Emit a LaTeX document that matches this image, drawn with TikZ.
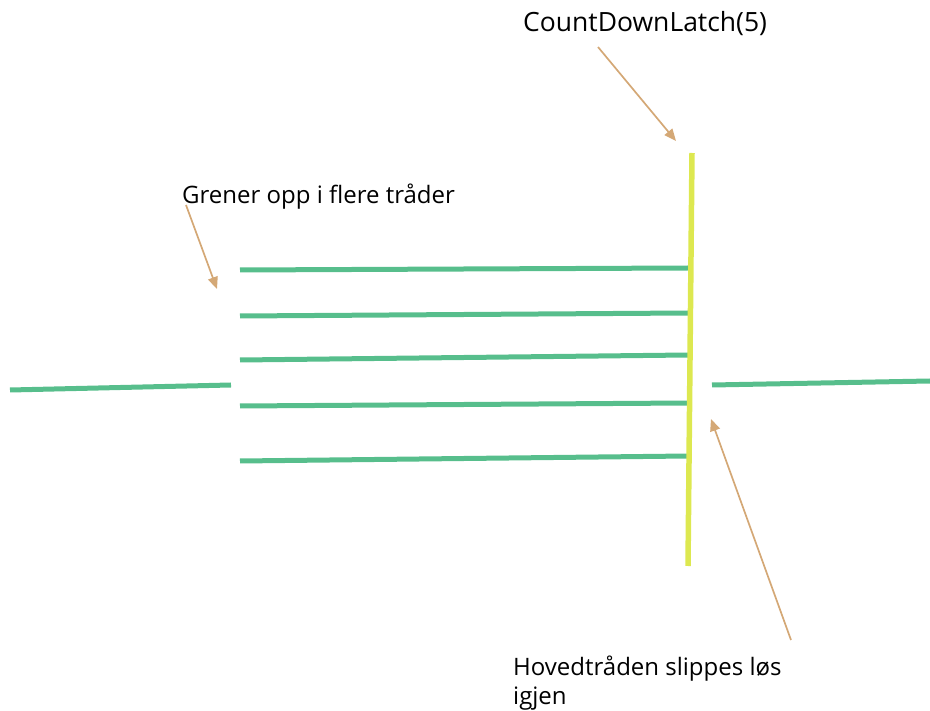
\documentclass[tikz,border=0pt]{standalone}
\usepackage{fontspec}
\setmainfont{Open Sans}
\usetikzlibrary{arrows.meta}
\definecolor{traad}{RGB}{87,190,140}
\definecolor{latch}{RGB}{221,232,80}
\definecolor{pil}{RGB}{212,168,118}
\tikzset{
  thread/.style={line width=5pt, traad},
  barrier/.style={line width=5.5pt, latch},
  note/.style={pil, line width=1.7pt, -{Triangle[length=12pt,width=10pt]}},
  label/.style={font=\fontsize{24}{29}\selectfont, inner sep=0pt, anchor=west}
}
\begin{document}
\begin{tikzpicture}[x=1pt,y=-1pt]
\useasboundingbox (0,0) rectangle (930,711);
% Main thread
\draw[thread] (10,390) coordinate (m1) -- (231,385) coordinate (m2);
\draw[thread] (712,385) coordinate (m3) -- (930,381) coordinate (m4);

% Branches
\draw[thread] (240,270) -- (688,268);
\draw[thread] (240,316) -- (688,313);
\draw[thread] (240,360) -- (688,355);
\draw[thread] (240,406) -- (688,403);
\draw[thread] (240,461) -- (688,456);

% Latch
\draw[barrier] (692,153) coordinate (l1) -- (688,566) coordinate (l2);

% Labels
\node[label, font=\fontsize{26.5}{30}\selectfont] (cdl) at (523,24) {CountDownLatch(5)};
\node[label] (gren) at (182,197) {Grener opp i flere tråder};
\node[label, align=left, anchor=north west] (hoved) at (513,656) {Hovedtråden slippes løs\\igjen};

% Arrows
\coordinate (a1s) at (598,47);
\coordinate (a1e) at (676,141);
\coordinate (a2s) at (186,205);
\coordinate (a2e) at (217,289);
\coordinate (a3s) at (791,640);
\coordinate (a3e) at (711,419);
\draw[note] (a1s) -- (a1e);
\draw[note] (a2s) -- (a2e);
\draw[note] (a3s) -- (a3e);
\end{tikzpicture}
\end{document}
